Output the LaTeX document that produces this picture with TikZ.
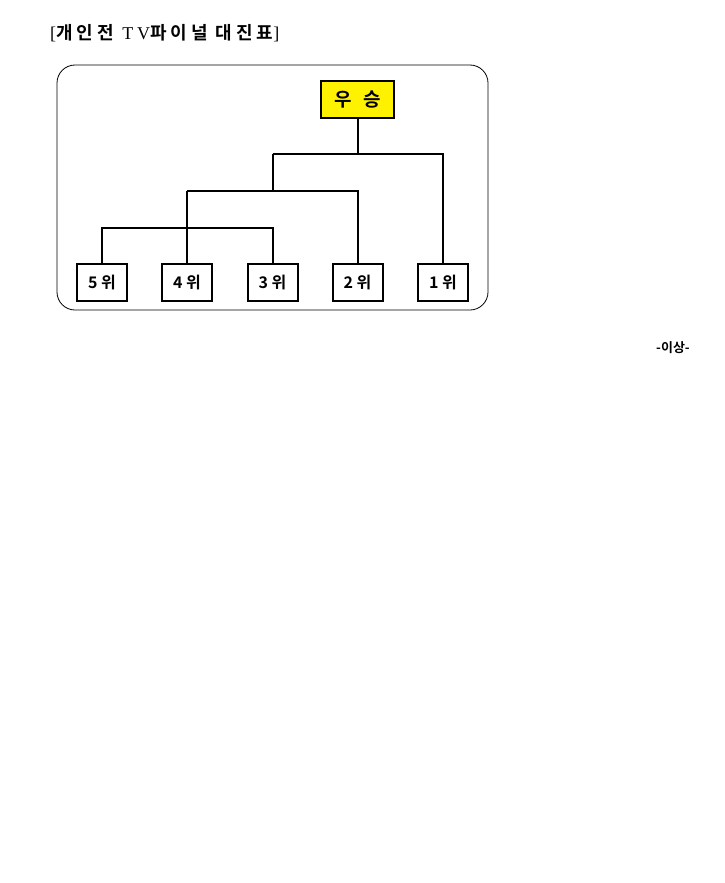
\documentclass[tikz,border=0pt]{standalone}
\usepackage{fontspec}
\setmainfont{Liberation Serif}[LetterSpace=22]
\newfontfamily\kr{Noto Sans CJK KR}
\newfontfamily\krb{Noto Sans CJK KR Bold}
\newfontfamily\krbs{Noto Sans CJK KR Bold}[LetterSpace=22]
\begin{document}
\begin{tikzpicture}[x=1pt,y=-1pt,
  rank/.style={draw, line width=2pt, minimum width=50pt, minimum height=37pt, inner sep=0pt, font=\krb\fontsize{16}{18}\selectfont},
  wire/.style={line width=2pt}]
\useasboundingbox (0,0) rectangle (725,883);
\node[anchor=west, inner sep=0pt] (title) at (50,33) {\fontsize{18}{21}\selectfont [{\krbs 개인전} TV{\krbs 파이널 대진표}]};
\draw[rounded corners=18pt, line width=0.8pt] (57,65) rectangle (488,310);
\node[draw, fill=yellow, line width=2pt, minimum width=73pt, minimum height=37pt, inner sep=0pt, font=\krb\fontsize{19}{21}\selectfont] (win) at (357.5,99.5) {우\hspace{12pt}승};
\node[rank] (p5) at (102,282.5) {5 위};
\node[rank] (p4) at (187,282.5) {4 위};
\node[rank] (p3) at (272.5,282.5) {3 위};
\node[rank] (p2) at (357.5,282.5) {2 위};
\node[rank] (p1) at (443,282.5) {1 위};
\coordinate (a) at (272.5,154);
\coordinate (c) at (187,191);
\coordinate (d) at (102,228);
\draw[wire] (win.south) -- (win.south |- a);
\draw[wire] (a) -| (p1.north);
\draw[wire] (a) -- (a |- c);
\draw[wire] (c) -| (p2.north);
\draw[wire] (c) -- (p4.north);
\draw[wire] (p5.north) -- (d) -| (p3.north);
\node[inner sep=0pt, font=\krb\fontsize{13}{14}\selectfont] (end) at (673,348) {-이상-};
\end{tikzpicture}
\end{document}
